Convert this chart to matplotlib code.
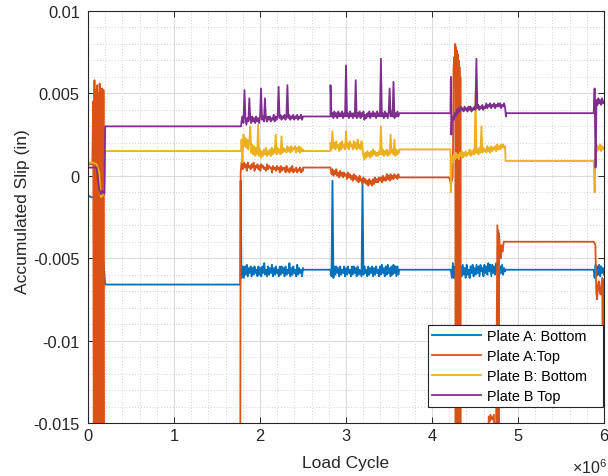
import numpy as np
import matplotlib
matplotlib.use("Agg")
import matplotlib.pyplot as plt
from matplotlib.ticker import MultipleLocator

plt.rcParams['font.family'] = ['Liberation Sans', 'DejaVu Sans']
plt.rcParams['mathtext.fontset'] = 'custom'
plt.rcParams['mathtext.rm'] = 'Liberation Sans'
plt.rcParams['mathtext.it'] = 'Liberation Sans:italic'

# ---------------- data (x in 1e6 load cycles, y in 1e-4 in) ----------------
series_names = ["Plate A: Bottom", "Plate A:Top", "Plate B: Bottom", "Plate B Top"]
series_colors = ["#0072BD", "#D95319", "#EDB120", "#7E2F8E"]
xtick_values = [0, 1, 2, 3, 4, 5, 6]
xtick_labels = ["0", "1", "2", "3", "4", "5", "6"]
ytick_values = [0.01, 0.005, 0, -0.005, -0.01, -0.015]
ytick_labels = ["0.01", "0.005", "0", "-0.005", "-0.01", "-0.015"]

# Plate A: Bottom
blue_start_x = [0.0, 0.04, 0.12, 0.20]
blue_start_y = [-12, -13, -13, -66]
blue_rest1_x = [0.20, 1.77, 1.775, 1.785]
blue_rest1_y = [-66, -66, -3, -62]
blue_act1 = [-60,-55,-62,-55,-60,-54,-61,-56,-59,-55,-61,-56,-60,-55,-59,-57,-61,-55,-60,-56,
             -61,-55,-59,-53,-60,-57,-61,-55,-60,-56,-59,-54,-61,-56,-60,-55,-59,-57,-61,-55,
             -60,-55,-59,-56,-61,-55,-60,-57,-59,-53,-61,-56,-60,-55,-59,-57,-61,-54,-60,-56,
             -59,-57,-61,-56]
blue_act2 = [-57,-61,-3,-62,-55,-60,-55,-59,-56,-61,-55,-60,-57,-59,-55,-61,-56,-60,-55,-59,
             -57,-61,-55,-60,-55,-59,-56,-61,-55,-60,-57,-59,-61,-5,-60,-55,-59,-57,-61,-55,
             -60,-56,-59,-55,-61,-56,-60,-55,-59,-57,-61,-55,-60,-54,-59,-56,-61,-55,-60,-54,
             -59,-56,-61,-55,-60,-54,-59,-55,-61,-55,-60,-57]
blue_act3 = [-57,-62,-53,-62,-55,-63,-54,-60,-56,-62,-55,-61,-54,-60,-56,-62,-54,-60,-57,-62,
             -55,-59,-54,-61,-56,-60,-54,-59,-55,-61,-54,-58,-56,-61,-54,-59,-55,-60,-53,-58,
             -54,-61,-54,-59,-55,-60,-53,-58,-54,-61,-55,-59,-54,-60,-56,-58]
blue_act4 = [-57,-62,-54,-61,-55,-60,-54,-61,-55,-59,-56,-60]
blue_flat = [-57, -57]

# Plate A: Top
orange_start_x = [0.0, 0.05, 0.06, 0.068, 0.075, 0.083, 0.09, 0.098, 0.105, 0.113, 0.12, 0.128,
                  0.135, 0.143, 0.15, 0.158, 0.165, 0.173, 0.18, 0.188, 0.195, 0.20]
orange_start_y = [7, 7, 45, -200, 58, -200, 52, -200, 55, -200, 50, -200,
                  56, -200, 48, -200, 53, -200, 52, -200, -200, -200]
orange_rest1_x = [0.20, 1.77, 1.775, 1.785]
orange_rest1_y = [-200, -200, 2, 8]
orange_act1 = [9,4,8,5,7,3,8,5,6,4,7,5,8,3,6,5,7,4,6,3,7,5,6,4,5,3,7,4,6,5,5,2,6,4,5,3,6,4,5,2,
               6,3,5,4,5,2,6,3,4,2,5,3,6,2,4,3,5,2,4,3,5,2,4,3]
orange_rest2 = 5
orange_act2 = [5,1,4,0,3,1,4,0,2,-1,3,0,2,-1,2,0,1,-2,2,-1,1,-2,0,-3,1,-2,0,-3,-1,-4,0,-3,-2,-5,
               -1,-4,-2,-5,-3,-6,-2,-5,-3,-6,-2,-5,-1,-4,-2,-4,-1,-3,-1,-4,0,-3,-1,-3,1,-2,0,-3,
               1,-2,0,-2,1,-1,0,-2,1,-1]
orange_rest3 = -1
orange_act3_x = [4.20, 4.22, 4.23, 4.24, 4.245, 4.25, 4.26, 4.265, 4.27, 4.275, 4.28, 4.285,
                 4.29, 4.295, 4.30, 4.305, 4.31, 4.315, 4.32, 4.325, 4.33, 4.335, 4.34, 4.35,
                 4.64, 4.66, 4.67, 4.68, 4.70, 4.72, 4.74, 4.76, 4.765, 4.77, 4.775, 4.78,
                 4.79, 4.80, 4.81, 4.82, 4.835]
orange_act3_y = [-1, -5, -3, -1, 20, 65, 72, 68, 80, -200, 78, -200,
                 76, -200, 74, -200, 70, -200, 66, -200, 60, -200, -200, -200,
                 -200, -146, -149, -145, -148, -145, -200, -30, -200, -33, -200, -35,
                 -45, -50, -42, -46, -40]
orange_rest4 = -40
orange_act4_x = [5.88, 5.90, 5.91, 5.92, 5.93, 5.94, 5.95, 5.96, 5.97, 5.98, 5.985, 5.99, 6.0]
orange_act4_y = [-40, -42, -70, -75, -66, -64, -70, -72, -66, -62, -125, -65, -63]

# Plate B: Bottom
yellow_start_x = [0.0, 0.05, 0.10, 0.13, 0.15, 0.17, 0.19, 0.20]
yellow_start_y = [8, 8, 7, 2, -13, -12, -10, 15]
yellow_rest1 = 15
yellow_act1 = [22,8,25,18,23,17,22,16,20,30,14,19,13,18,12,17,13,31,12,16,11,15,12,16,13,17,12,15,
               13,16,12,17,13,16,14,25,13,17,14,16,13,24,14,17,15,16,14,18,15,17,14,18,15,17,16,18,
               14,17,15,18,14,17,15,16]
yellow_rest2 = 15
yellow_act2 = [20,16,27,17,20,16,21,17,19,15,20,16,21,17,19,16,27,17,20,16,21,18,19,16,21,17,20,16,
               22,17,19,16,21,17,12,10,14,11,15,12,14,11,15,12,16,13,15,12,14,12,15,13,30,13,16,12,
               15,13,16,12,15,13,25,14,16,13,22,12,16,13,15,14]
yellow_rest3 = 16
yellow_act3 = [-10,12,8,13,10,14,11,13,10,14,12,15,11,14,12,15,12,14,13,16,12,15,13,16,13,50,14,16,
               13,17,14,30,14,17,15,16,14,18,15,17,14,18,15,17,16,18,15,19,16,18,16,19,17,19,17,18]
yellow_rest4 = 9
yellow_act4 = [9,-10,16,19,15,18,16,19,15,18,16,17]

# Plate B Top
purple_start_x = [0.0, 0.10, 0.13, 0.15, 0.17, 0.19, 0.20]
purple_start_y = [5, 5, -8, -11, -9, -11, 30]
purple_rest1 = 30
purple_act1 = [33,36,32,52,35,31,35,33,47,34,32,36,33,35,32,36,33,35,32,36,53,34,36,33,47,35,33,36,
               34,36,33,35,34,37,33,36,34,36,54,35,37,34,36,35,37,34,36,55,35,37,34,36,35,37,34,36,
               35,37,34,36,35,37,34,36]
purple_rest2 = 36
purple_act2 = [55,36,38,35,39,36,38,35,39,36,38,36,39,35,38,36,67,36,38,35,39,36,38,35,38,36,58,35,
               38,36,39,35,38,36,39,34,37,35,38,36,39,35,38,36,39,36,38,35,39,36,38,36,71,36,38,35,
               39,36,38,35,38,53,36,39,36,57,35,38,36,39,36,38]
purple_rest3 = 38
purple_act3_head_x = [4.215, 4.22, 4.225]
purple_act3_head_y = [38, 60, 25]
purple_act3 = [33,36,34,38,36,40,38,41,39,42,40,41,39,42,40,41,39,42,40,42,39,41,40,42,40,71,41,43,
               40,42,41,43,40,42,41,44,41,43,42,44,41,43,42,44,41,43,42,44,42,44,41,43,42,44,42,36]
purple_rest4 = 38
purple_act4 = [38,53,5,46,43,47,44,46,43,47,44,45]


def seg(x0, x1, vals):
    return list(np.linspace(x0, x1, len(vals))), list(vals)


def build(pieces):
    xs, ys = [], []
    for px, py in pieces:
        xs += list(px)
        ys += list(py)
    return np.array(xs), np.array(ys) * 1e-4


blue = build([
    (blue_start_x, blue_start_y),
    (blue_rest1_x, blue_rest1_y),
    seg(1.79, 2.50, blue_act1),
    ([2.50, 2.82], blue_flat),
    seg(2.82, 3.62, blue_act2),
    ([3.62, 4.22], blue_flat),
    seg(4.22, 4.85, blue_act3),
    ([4.85, 5.88], blue_flat),
    seg(5.88, 6.0, blue_act4),
])
orange = build([
    (orange_start_x, orange_start_y),
    (orange_rest1_x, orange_rest1_y),
    seg(1.79, 2.50, orange_act1),
    ([2.50, 2.82], [orange_rest2] * 2),
    seg(2.82, 3.62, orange_act2),
    ([3.62, 4.20], [orange_rest3] * 2),
    (orange_act3_x, orange_act3_y),
    ([4.835, 5.88], [orange_rest4] * 2),
    (orange_act4_x, orange_act4_y),
])
yellow = build([
    (yellow_start_x, yellow_start_y),
    ([0.20, 1.78], [yellow_rest1] * 2),
    seg(1.785, 2.50, yellow_act1),
    ([2.50, 2.82], [yellow_rest2] * 2),
    seg(2.82, 3.62, yellow_act2),
    ([3.62, 4.215], [yellow_rest3] * 2),
    seg(4.22, 4.85, yellow_act3),
    ([4.855, 5.88], [yellow_rest4] * 2),
    seg(5.88, 6.0, yellow_act4),
])
purple = build([
    (purple_start_x, purple_start_y),
    ([0.20, 1.78], [purple_rest1] * 2),
    seg(1.785, 2.50, purple_act1),
    ([2.50, 2.82], [purple_rest2] * 2),
    seg(2.82, 3.62, purple_act2),
    ([3.62, 4.215], [purple_rest3] * 2),
    (purple_act3_head_x, purple_act3_head_y),
    seg(4.23, 4.86, purple_act3),
    ([4.86, 5.88], [purple_rest4] * 2),
    seg(5.88, 6.0, purple_act4),
])

# ---------------- figure ----------------
fig = plt.figure(figsize=(6.08, 4.77), dpi=100)
ax = fig.add_axes([88 / 608, 1 - 424 / 477, (604 - 88) / 608, (424 - 12) / 477])

for (x, y), name, col in zip([blue, orange, yellow, purple], series_names, series_colors):
    ax.plot(x, y, color=col, lw=1.3, label=name)

ax.set_xlim(0, 6)
ax.set_ylim(-0.015, 0.01)
ax.set_xticks(xtick_values)
ax.set_xticklabels(xtick_labels)
ax.set_yticks(ytick_values)
ax.set_yticklabels(ytick_labels)
ax.xaxis.set_minor_locator(MultipleLocator(0.2))
ax.yaxis.set_minor_locator(MultipleLocator(0.001))
ax.grid(which='major', color='#dcdcdc', lw=0.8, ls='-')
ax.grid(which='minor', color='#c4c4c4', lw=0.6, ls=(0, (1, 2.5)))
ax.set_axisbelow(True)
ax.tick_params(which='major', direction='in', length=4, width=0.7, top=True, right=True,
               colors='#262626', labelsize=11.8, labelcolor='#262626')
ax.tick_params(axis='y', which='major', pad=6)
ax.tick_params(which='minor', length=0)
for s in ax.spines.values():
    s.set_color('#262626')
    s.set_linewidth(0.8)

ax.set_xlabel("Load Cycle", fontsize=12.5, color='#262626')
ax.set_ylabel("Accumulated Slip (in)", fontsize=12.5, color='#262626')
ax.xaxis.set_label_coords(0.499, -0.078)
ax.yaxis.set_label_coords(-0.112, 0.515)
fig.text(0.998, 0.0, r'$\times10^{6}$', ha='right', va='bottom', fontsize=11.5, color='#262626')

leg = ax.legend(loc='lower left', bbox_to_anchor=(0.658, 0.039, 0.34, 0.2), mode='expand',
                fontsize=10.4, frameon=True, fancybox=False, edgecolor='#262626', framealpha=1,
                handlelength=3.4, labelspacing=0.4, borderpad=0.3, handletextpad=0.4,
                borderaxespad=0.0)
leg.get_frame().set_linewidth(0.8)

fig.savefig("out.png", dpi=100)
